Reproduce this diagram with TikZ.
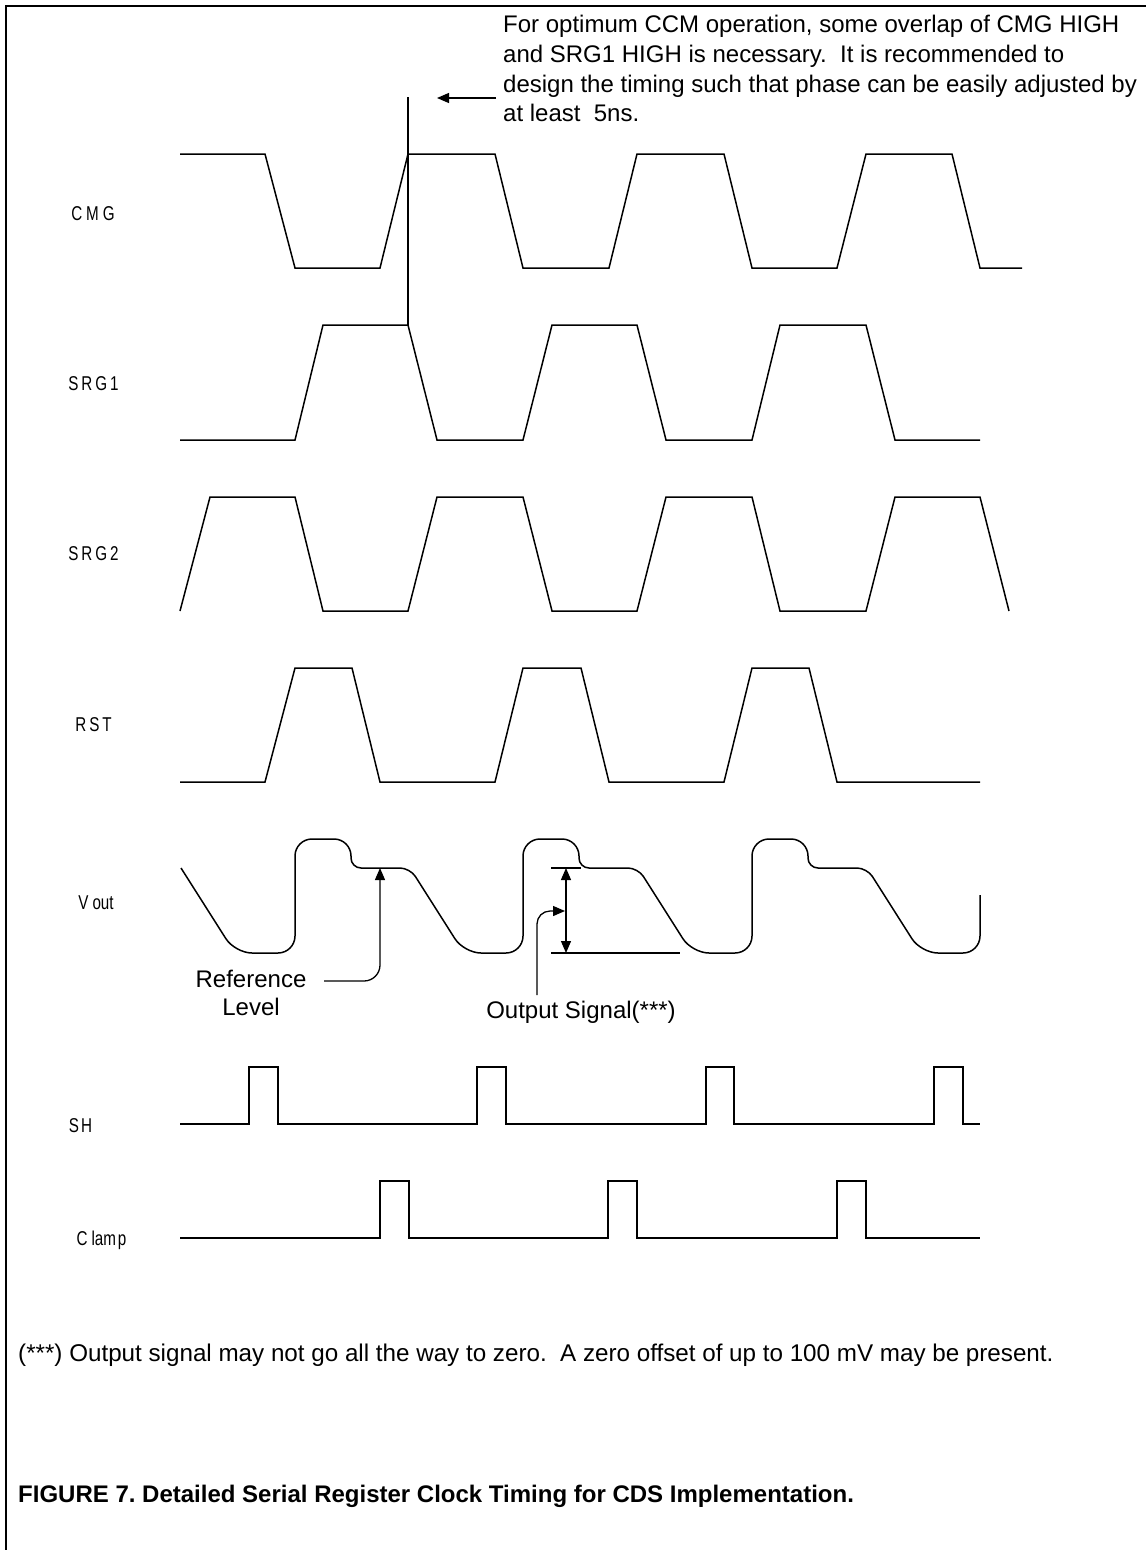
\documentclass[tikz,border=0pt]{standalone}
\usepackage{fontspec}
\setmainfont{Liberation Sans}
\newfontfamily\labfont[FakeStretch=0.76]{Liberation Sans}
\usetikzlibrary{arrows.meta}
\begin{document}
\frenchspacing
\begin{tikzpicture}[x=1pt,y=-1pt,
  wave/.style={line width=1.5pt, line join=miter},
  frameline/.style={line width=2pt},
  sig/.style={font=\labfont\fontsize{20}{20}\selectfont, anchor=base, inner sep=0pt},
  txt/.style={font=\fontsize{24}{29}\selectfont, anchor=base west, inner sep=0pt},
  ctxt/.style={font=\fontsize{24}{29}\selectfont, anchor=base, inner sep=0pt},
  tipline/.style={-{Triangle[length=12pt,width=10pt]}, line width=1.3pt},
  dblline/.style={{Triangle[length=12pt,width=10pt]}-{Triangle[length=12pt,width=10pt]}, line width=1.3pt},
  thin/.style={line width=1.3pt}
]
\useasboundingbox (0,0) rectangle (1146,1550);
% frame
\draw[frameline] (6,1550) -- (6,6) -- (1146,6);

% annotation
\node[txt] (ann1) at (503,32) {For optimum CCM operation, some overlap of CMG HIGH};
\node[txt] (ann2) at (503,62) {and SRG1 HIGH is necessary.\ \ It is recommended to};
\node[txt] (ann3) at (503,92) {design the timing such that phase can be easily adjusted by};
\node[txt] (ann4) at (503,121) {at least\ \ 5ns.};
\coordinate (annA) at (496,98);
\coordinate (annB) at (437,98);
\draw[tipline] (annA) -- (annB);
\coordinate (markT) at (408,97);
\coordinate (markB) at (408,325);
\draw[thin] (markT) -- (markB);

% signal labels
\node[sig] (lcmg)  at (93,220)  {C\hspace{4pt}M\hspace{4pt}G};
\node[sig] (lsrg1) at (93.5,390) {S\hspace{3pt}R\hspace{3pt}G\hspace{3pt}1};
\node[sig] (lsrg2) at (93.5,560) {S\hspace{3pt}R\hspace{3pt}G\hspace{3pt}2};
\node[sig] (lrst)  at (93.5,731) {R\hspace{3pt}S\hspace{3pt}T};
\node[sig] (lvout) at (96,909)  {V\hspace{4pt}out};
\node[sig] (lsh)   at (80.5,1132) {S\hspace{2pt}H};
\node[sig] (lclamp) at (101.5,1245) {C\hspace{4pt}lam\hspace{2pt}p};

% CMG
\draw[wave] (180,154) -- (265,154) -- (295,268) -- (380,268) -- (408,154) -- (495,154) -- (523,268) -- (609,268) -- (637,154) -- (724,154) -- (752,268) -- (837,268) -- (866,154) -- (952,154) -- (980,268) -- (1022,268);
% SRG1
\draw[wave] (180,440) -- (295,440) -- (323,325) -- (408,325) -- (437,440) -- (523,440) -- (552,325) -- (637,325) -- (666,440) -- (752,440) -- (780,325) -- (866,325) -- (895,440) -- (980,440);
% SRG2
\draw[wave] (180,611) -- (210,497) -- (295,497) -- (323,611) -- (408,611) -- (437,497) -- (523,497) -- (552,611) -- (637,611) -- (666,497) -- (752,497) -- (780,611) -- (866,611) -- (895,497) -- (980,497) -- (1009,611);
% RST
\draw[wave] (180,782) -- (265,782) -- (295,668) -- (352,668) -- (380,782) -- (495,782) -- (523,668) -- (581,668) -- (609,782) -- (724,782) -- (752,668) -- (809,668) -- (837,782) -- (980,782);
% Vout
\draw[wave, rounded corners=17pt] (181,868) -- (235,953) -- (295,953) -- (295,839)
  -- (351,839) [rounded corners=10pt] -- (351,868) -- (410,868) [rounded corners=17pt] -- (464,953) -- (523,953) -- (523,839)
  -- (579,839) [rounded corners=10pt] -- (579,868) -- (638,868) [rounded corners=17pt] -- (692,953) -- (752,953) -- (752,839)
  -- (808,839) [rounded corners=10pt] -- (808,868) -- (867,868) [rounded corners=17pt] -- (921,953) -- (980,953) -- (980,895);
% SH
\draw[wave] (180,1124) -- (249,1124) -- (249,1067) -- (278,1067) -- (278,1124) -- (477,1124) -- (477,1067) -- (506,1067) -- (506,1124) -- (706,1124) -- (706,1067) -- (734,1067) -- (734,1124) -- (934,1124) -- (934,1067) -- (963,1067) -- (963,1124) -- (980,1124);
% Clamp
\draw[wave] (180,1238) -- (380,1238) -- (380,1181) -- (409,1181) -- (409,1238) -- (608,1238) -- (608,1181) -- (637,1181) -- (637,1238) -- (837,1238) -- (837,1181) -- (866,1181) -- (866,1238) -- (980,1238);

% Reference level
\node[ctxt] (ref1) at (251,987) {Reference};
\node[ctxt] (ref2) at (251,1015) {Level};
\coordinate (refA) at (324,981);
\coordinate (refB) at (380,868);
\draw[tipline, rounded corners=16pt] (refA) -| (refB);

% Output signal
\coordinate (osT1) at (551,868);
\coordinate (osT2) at (581,868);
\coordinate (osB1) at (551,953);
\coordinate (osB2) at (680,953);
\draw[thin] (osT1) -- (osT2);
\draw[thin] (osB1) -- (osB2);
\coordinate (osU) at (566,868);
\coordinate (osD) at (566,953);
\draw[dblline] (osU) -- (osD);
\node[ctxt] (ostxt) at (581,1018) {Output Signal(***)};
\coordinate (osA) at (537,995);
\coordinate (osC) at (565,911);
\draw[tipline, rounded corners=13pt] (osA) |- (osC);

% footnote and caption
\node[txt, font=\fontsize{24.2}{29}\selectfont] (foot) at (18,1361) {(***) Output signal may not go all the way to zero.\ \ A zero offset of up to 100 mV may be present.};
\node[txt, font=\bfseries\fontsize{24}{29}\selectfont] (cap) at (18,1502) {FIGURE 7. Detailed Serial Register Clock Timing for CDS Implementation.};
\end{tikzpicture}
\end{document}
